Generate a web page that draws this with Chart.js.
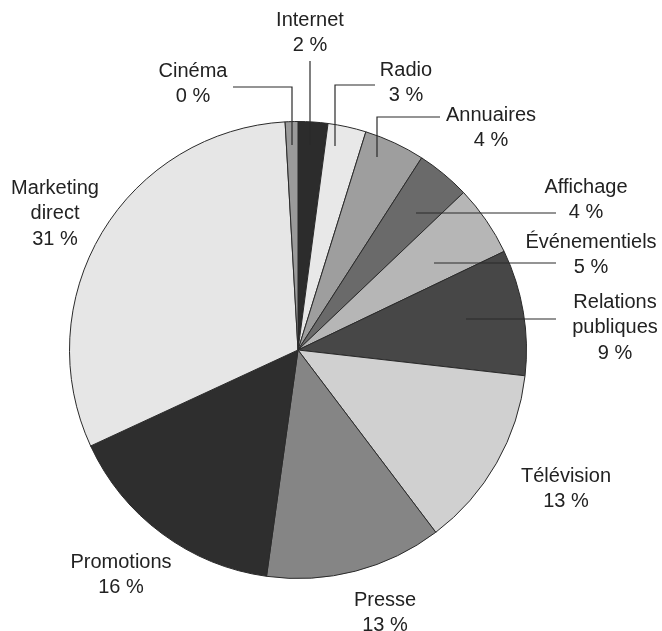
<!DOCTYPE html>
<html>
<head>
<meta charset="utf-8">
<script src="https://cdn.jsdelivr.net/npm/chart.js@4.4.1/dist/chart.umd.min.js"></script>
<style>
  html, body { margin: 0; padding: 0; background: #fff; }
  #wrap { width: 662px; height: 631px; }
</style>
</head>
<body>
<div id="wrap"><canvas id="pieChart"></canvas></div>
<script>
// data, clockwise from the top
const categories = ['Internet', 'Radio', 'Annuaires', 'Affichage', 'Événementiels', 'Relations publiques', 'Télévision', 'Presse', 'Promotions', 'Marketing direct', 'Cinéma'];
const shares = [2.1, 2.7, 4.3, 3.8, 5.0, 8.9, 12.9, 12.5, 15.9, 31.0, 0.9];
const shownPercents = ['2 %', '3 %', '4 %', '4 %', '5 %', '9 %', '13 %', '13 %', '16 %', '31 %', '0 %'];

const sliceColors = ['#2c2c2c', '#e8e8e8', '#9e9e9e', '#6a6a6a', '#b6b6b6', '#474747', '#d0d0d0', '#858585', '#2e2e2e', '#e6e6e6', '#9a9a9a'];

// label placement: text lines + centre, optional leader polyline
const labelLayout = [
    { lines: ['Internet'], x: 310, y: 20, leader: [[310, 61], [310, 145]] },
    { lines: ['Radio'], x: 406, y: 70, leader: [[375, 85], [335, 85], [335, 146]] },
    { lines: ['Annuaires'], x: 491, y: 115, leader: [[440, 117], [377, 117], [377, 157]] },
    { lines: ['Affichage'], x: 586, y: 187, leader: [[556, 213], [416, 213]] },
    { lines: ['Événementiels'], x: 591, y: 242, leader: [[556, 263], [434, 263]] },
    { lines: ['Relations', 'publiques'], x: 615, y: 302, leader: [[556, 319], [466, 319]] },
    { lines: ['Télévision'], x: 566, y: 476, leader: null },
    { lines: ['Presse'], x: 385, y: 600, leader: null },
    { lines: ['Promotions'], x: 121, y: 562, leader: null },
    { lines: ['Marketing', 'direct'], x: 55, y: 188, leader: null },
    { lines: ['Cinéma'], x: 193, y: 71, leader: [[233, 87], [292, 87], [292, 145]] }
];

const labelPlugin = {
    id: 'outerLabels',
    afterDraw(chart) {
        const ctx = chart.ctx;
        ctx.save();
        ctx.strokeStyle = '#2a2a2a';
        ctx.lineWidth = 1.2;
        labelLayout.forEach(function(l) {
            if (!l.leader) return;
            ctx.beginPath();
            ctx.moveTo(l.leader[0][0], l.leader[0][1]);
            for (let i = 1; i < l.leader.length; i++) ctx.lineTo(l.leader[i][0], l.leader[i][1]);
            ctx.stroke();
        });
        ctx.fillStyle = '#222';
        ctx.font = '20px "Liberation Sans", Arial, sans-serif';
        ctx.textAlign = 'center';
        ctx.textBaseline = 'middle';
        labelLayout.forEach(function(l, i) {
            const rows = l.lines.concat([shownPercents[i]]);
            rows.forEach(function(t, k) {
                ctx.fillText(t, l.x, l.y + k * 25.5);
            });
        });
        ctx.restore();
    }
};

new Chart(document.getElementById('pieChart').getContext('2d'), {
    type: 'pie',
    data: {
        labels: categories,
        datasets: [{
            data: shares,
            backgroundColor: sliceColors,
            borderColor: '#2a2a2a',
            borderWidth: 1
        }]
    },
    options: {
        responsive: true,
        maintainAspectRatio: false,
        animation: false,
        layout: { padding: { top: 121, bottom: 52, left: 69, right: 135 } },
        plugins: {
            legend: { display: false },
            tooltip: { enabled: false }
        }
    },
    plugins: [labelPlugin]
});
</script>
</body>
</html>
